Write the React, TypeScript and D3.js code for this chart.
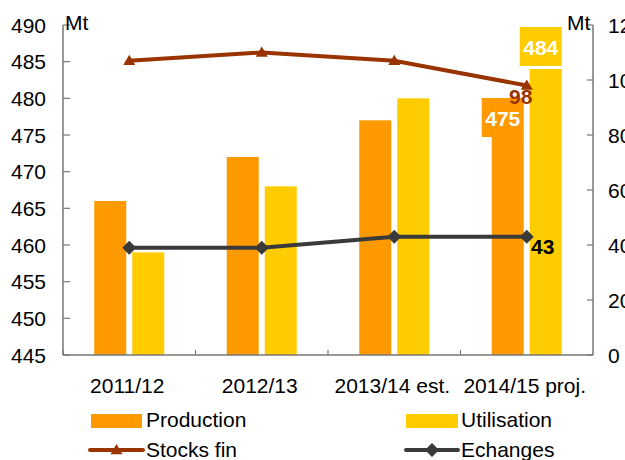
import React from "react";
import * as d3 from "d3";

const categories = ["2011/12", "2012/13", "2013/14 est.", "2014/15 proj."];
const production = [466, 472, 477, 475];
const utilisation = [459, 468, 480, 484];
const stocksFin = [107, 110, 107, 98];
const echanges = [39, 39, 43, 43];
const leftTicks = [445, 450, 455, 460, 465, 470, 475, 480, 485, 490];
const rightTicks = [0, 20, 40, 60, 80, 100, 120];

const W = 625, H = 460;
const L = 63, R = 593, T = 25, B = 355;
const FONT = "Liberation Sans, Arial, sans-serif";
const FS = 21;
const C_PROD = "#FF9900";
const C_UTIL = "#FFCC00";
const C_STOCK = "#993300";
const C_ECH = "#3a3a3a";
const AXIS = "#777777";

export default function App() {
  const x = d3.scaleBand<string>().domain(categories).range([L, R]).padding(0);
  const yL = d3.scaleLinear().domain([445, 490]).range([B, T]);
  const yR = d3.scaleLinear().domain([0, 120]).range([B, T]);
  const bw = 32, gap = 3;
  const cx = (c: string) => (x(c) as number) + x.bandwidth() / 2;

  const line = d3.line<[number, number]>().x((d) => d[0]).y((d) => d[1]);
  const stockPts: [number, number][] = categories.map((c, i) => [cx(c), yR(stocksFin[i])]);
  const echPts: [number, number][] = categories.map((c, i) => [cx(c), yR(echanges[i])]);

  const tri = (px: number, py: number, s = 6) =>
    `M${px},${py - s} L${px + s},${py + s * 0.7} L${px - s},${py + s * 0.7} Z`;
  const dia = (px: number, py: number, s = 6) =>
    `M${px},${py - s} L${px + s},${py} L${px},${py + s} L${px - s},${py} Z`;

  const last = categories.length - 1;
  const lc = categories[last];
  const prodX = cx(lc) - gap - bw;
  const utilX = cx(lc) + gap;

  return (
    <svg width={W} height={H} style={{ position: "absolute", left: 0, top: 0, fontFamily: FONT }}>
      <rect x={0} y={0} width={W} height={H} fill="#fff" />
      {/* bars */}
      {categories.map((c, i) => (
        <g key={c}>
          <rect x={cx(c) - gap - bw} y={yL(production[i])} width={bw} height={B - yL(production[i])} fill={C_PROD} />
          <rect x={cx(c) + gap} y={yL(utilisation[i])} width={bw} height={B - yL(utilisation[i])} fill={C_UTIL} />
        </g>
      ))}
      {/* axes */}
      <line x1={L} y1={T} x2={L} y2={B} stroke={AXIS} strokeWidth={1.5} />
      <line x1={R} y1={T} x2={R} y2={B} stroke={AXIS} strokeWidth={1.5} />
      <line x1={L} y1={B} x2={R} y2={B} stroke={AXIS} strokeWidth={1.5} />
      {leftTicks.map((t) => (
        <g key={"l" + t}>
          <line x1={L} x2={L + 7} y1={yL(t)} y2={yL(t)} stroke={AXIS} strokeWidth={1.2} />
          <text x={46} y={yL(t)} dy="0.36em" textAnchor="end" fontSize={FS} fill="#000">{t}</text>
        </g>
      ))}
      {rightTicks.map((t) => (
        <g key={"r" + t}>
          <line x1={R - 6} x2={R} y1={yR(t)} y2={yR(t)} stroke={AXIS} strokeWidth={1.2} />
          <text x={608} y={yR(t)} dy="0.36em" textAnchor="start" fontSize={FS} fill="#000">{t}</text>
        </g>
      ))}
      {categories.map((c) => (
        <g key={"x" + c}>
          <line x1={x(c) as number} x2={x(c) as number} y1={B} y2={B - 5} stroke={AXIS} strokeWidth={1.2} />
          <text x={cx(c) - 2} y={393} textAnchor="middle" fontSize={FS} fill="#000">{c}</text>
        </g>
      ))}
      <text x={65} y={30} fontSize={FS} fill="#000">Mt</text>
      <text x={567} y={30} fontSize={FS} fill="#000">Mt</text>

      {/* lines */}
      <path d={line(stockPts) as string} fill="none" stroke={C_STOCK} strokeWidth={4} />
      {stockPts.map((p, i) => <path key={"st" + i} d={tri(p[0], p[1])} fill={C_STOCK} />)}
      <path d={line(echPts) as string} fill="none" stroke={C_ECH} strokeWidth={4} />
      {echPts.map((p, i) => <path key={"ec" + i} d={dia(p[0], p[1], 7)} fill={C_ECH} />)}

      {/* data labels */}
      <rect x={utilX - 10} y={yL(utilisation[last]) - 42} width={42} height={39} fill={C_UTIL} />
      <text x={utilX + 11} y={yL(utilisation[last]) - 22} dy="0.36em" textAnchor="middle" fontSize={FS} fontWeight="bold" fill="#fff">{utilisation[last]}</text>
      <rect x={prodX - 10} y={yL(production[last]) - 37} width={42} height={39} fill={C_PROD} />
      <text x={prodX + 11} y={yL(production[last]) - 17} dy="0.36em" textAnchor="middle" fontSize={FS} fontWeight="bold" fill="#fff">{production[last]}</text>
      <text x={cx(lc) - 6} y={yR(stocksFin[last]) + 18} textAnchor="middle" fontSize={FS} fontWeight="bold" fill={C_STOCK}>{stocksFin[last]}</text>
      <text x={cx(lc) + 16} y={yR(echanges[last]) + 17} textAnchor="middle" fontSize={FS} fontWeight="bold" fill="#000">{echanges[last]}</text>

      {/* legend */}
      <rect x={91} y={414} width={51} height={14} fill={C_PROD} />
      <text x={146} y={427} fontSize={FS} fill="#000">Production</text>
      <rect x={406} y={414} width={52} height={14} fill={C_UTIL} />
      <text x={461} y={427} fontSize={FS} fill="#000">Utilisation</text>
      <line x1={90} x2={143} y1={450} y2={450} stroke={C_STOCK} strokeWidth={4} strokeLinecap="round" />
      <path d={tri(116.5, 450, 6)} fill={C_STOCK} />
      <text x={146} y={457} fontSize={FS} fill="#000">Stocks fin</text>
      <line x1={406} x2={458} y1={450} y2={450} stroke={C_ECH} strokeWidth={4} strokeLinecap="round" />
      <path d={dia(432, 450, 7)} fill={C_ECH} />
      <text x={461} y={457} fontSize={FS} fill="#000">Echanges</text>
    </svg>
  );
}
